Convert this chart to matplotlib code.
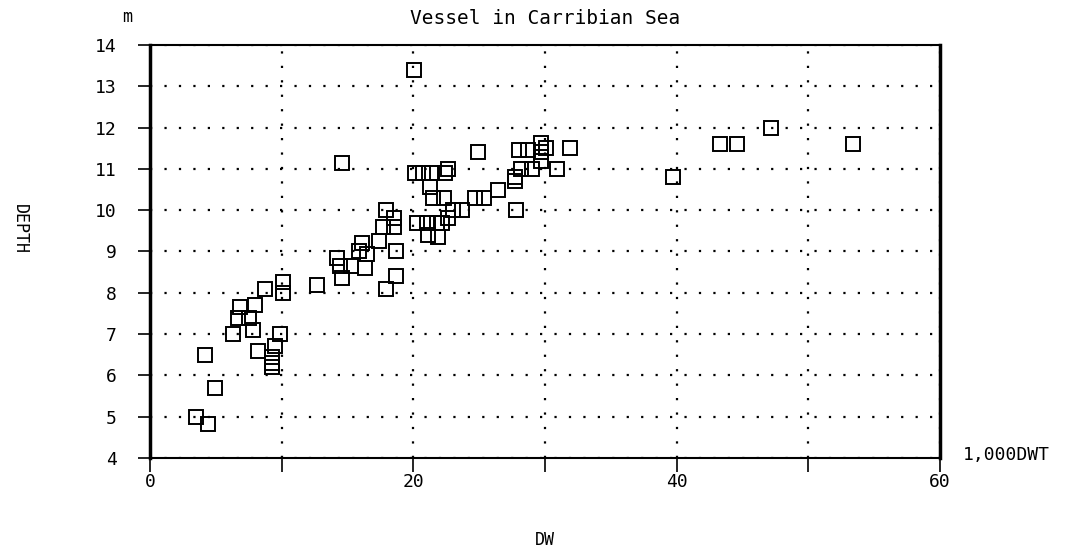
import matplotlib
matplotlib.use("Agg")
import matplotlib.pyplot as plt

plt.rcParams['font.family'] = ['DejaVu Sans Mono']

# deadweight (1,000 DWT) and depth (m)
dw = [3.5, 4.4, 4.2, 4.9, 6.3, 6.8, 8.0, 6.7, 7.5, 7.8, 8.7, 8.2, 9.5, 9.3, 9.3, 9.3, 9.9, 10.1, 10.1, 12.7,
      14.2, 14.4, 15.3, 16.3, 14.55, 14.55, 15.9, 16.5, 16.1, 17.4, 17.7, 18.5, 18.5, 17.9, 18.7, 18.7, 17.9,
      20.05, 20.1, 20.75, 21.4, 22.4, 22.65, 21.3, 21.5, 22.3, 23.0, 23.7, 20.3, 21.0, 21.8, 22.2, 22.6, 21.1, 21.9,
      24.9, 24.7, 25.4, 26.45, 27.7, 27.7, 27.8, 28.0, 28.2, 28.7, 29.0, 29.7, 30.1, 29.7, 29.7, 30.9, 31.9,
      39.7, 43.3, 44.6, 47.2, 53.4]
depth = [5.0, 4.83, 6.5, 5.7, 7.0, 7.65, 7.7, 7.4, 7.4, 7.1, 8.1, 6.6, 6.7, 6.45, 6.3, 6.2, 7.0, 8.25, 8.0, 8.2,
         8.85, 8.65, 8.65, 8.6, 8.35, 11.15, 9.0, 8.95, 9.2, 9.25, 9.6, 9.6, 9.8, 10.0, 9.0, 8.4, 8.1,
         13.4, 10.9, 10.9, 10.9, 10.9, 11.0, 10.55, 10.3, 10.3, 10.0, 10.0, 9.7, 9.7, 9.7, 9.7, 9.8, 9.4, 9.35,
         11.4, 10.3, 10.3, 10.5, 10.8, 10.7, 10.0, 11.45, 11.0, 11.45, 11.0, 11.62, 11.5, 11.4, 11.2, 11.0, 11.5,
         10.8, 11.6, 11.6, 12.0, 11.6]

x_major = [0, 20, 40, 60]
x_minor = [10, 30, 50]
y_ticks = list(range(4, 15))

fig = plt.figure(figsize=(10.7, 5.56), dpi=100)
ax = fig.add_axes([150/1070, 1-458/556, 790/1070, 413/556])

ax.plot(dw, depth, linestyle='none', marker='s', markersize=9.5,
        markerfacecolor='none', markeredgecolor='black', markeredgewidth=1.4)

ax.set_xlim(0, 60)
ax.set_ylim(4, 14)
ax.set_xticks(x_major)
ax.set_xticks(x_minor, minor=True)
ax.set_yticks(y_ticks)
ax.tick_params(axis='x', which='both', direction='out', length=10, width=1.2,
               pad=1, labelsize=13)
ax.tick_params(axis='y', direction='out', length=9, width=1.2, pad=15, labelsize=13)

ax.grid(True, which='both', color='black', linestyle=(0, (1, 5.5)), linewidth=1.6)

for side in ['left', 'right']:
    ax.spines[side].set_linewidth(2.5)
for side in ['top', 'bottom']:
    ax.spines[side].set_linewidth(1.5)

fig.text(545/1070, 1-18/556, 'Vessel in Carribian Sea', ha='center', va='center', fontsize=14)
fig.text(127/1070, 1-17/556, 'm', ha='center', va='center', fontsize=12)
fig.text(20/1070, 1-229/556, 'DEPTH', ha='center', va='center', rotation=270, fontsize=12)
fig.text(963/1070, 1-455/556, '1,000DWT', ha='left', va='center', fontsize=13)
fig.text(545/1070, 1-540/556, 'DW', ha='center', va='center', fontsize=12)

fig.savefig('out.png', dpi=100)
